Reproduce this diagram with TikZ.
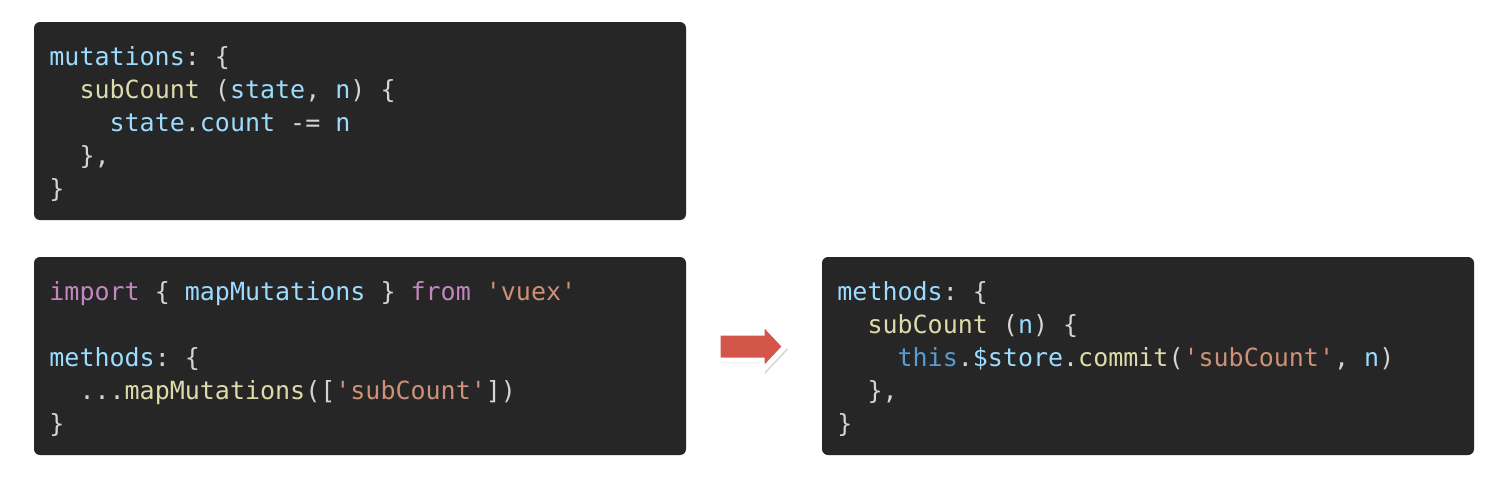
\documentclass[tikz,border=0pt]{standalone}
\usepackage{fontspec}
\setmonofont{DejaVu Sans Mono}
\usetikzlibrary{shadows}
\definecolor{codebg}{HTML}{262626}
\definecolor{cpunct}{HTML}{D4D4D4}
\definecolor{cvar}{HTML}{9CDCFE}
\definecolor{cfunc}{HTML}{DCDCAA}
\definecolor{ckey}{HTML}{C586C0}
\definecolor{cstr}{HTML}{CE9178}
\definecolor{cthis}{HTML}{569CD6}
\definecolor{arrowred}{HTML}{D4554A}
\newcommand\ind[1]{\phantom{#1}}
\begin{document}
\begin{tikzpicture}[x=0.5pt,y=-0.5pt]
\tikzstyle{codebox}=[fill=codebg, rounded corners=3pt]
\tikzstyle{code}=[anchor=base west, inner sep=0pt, align=left, text=cpunct,
  font=\ttfamily\fontsize{12.5}{16.5}\selectfont]
\useasboundingbox (0,0) rectangle (1506,495);
\fill [white] (0,0) rectangle (1506,495);
% code panels
\fill [codebox] (34,22) rectangle (686,220);
\fill [codebox] (34,257) rectangle (686,455);
\fill [codebox] (822,257) rectangle (1474,455);
% store mutations (base = last line)
\node [code] (mutations) at (49,197) {\textcolor{cvar}{mutations}: \{\\
\ind{xx}\textcolor{cfunc}{subCount} (\textcolor{cvar}{state}, \textcolor{cvar}{n}) \{\\
\ind{xxxx}\textcolor{cvar}{state}.\textcolor{cvar}{count} -= \textcolor{cvar}{n}\\
\ind{xx}\},\\
\}};
% mapped version
\node [code] (mapped) at (49,432) {\textcolor{ckey}{import} \{ \textcolor{cvar}{mapMutations} \} \textcolor{ckey}{from} \textcolor{cstr}{'vuex'}\\
\mbox{}\\
\textcolor{cvar}{methods}: \{\\
\ind{xx}...\textcolor{cfunc}{mapMutations}([\textcolor{cstr}{'subCount'}])\\
\}};
% plain version
\node [code] (commit) at (837,432) {\textcolor{cvar}{methods}: \{\\
\ind{xx}\textcolor{cfunc}{subCount} (\textcolor{cvar}{n}) \{\\
\ind{xxxx}\textcolor{cthis}{this}.\textcolor{cvar}{\$store}.\textcolor{cfunc}{commit}(\textcolor{cstr}{'subCount'}, \textcolor{cvar}{n})\\
\ind{xx}\},\\
\}};
% arrow
\filldraw [fill=arrowred, draw=white, line width=2.5pt, line join=miter,
  drop shadow={opacity=0.3, shadow xshift=1.5pt, shadow yshift=-1.5pt}]
  (718,333) -- (762,333) -- (762,322) -- (785,346.5) -- (762,371) -- (762,360) -- (718,360) -- cycle;
\end{tikzpicture}
\end{document}
